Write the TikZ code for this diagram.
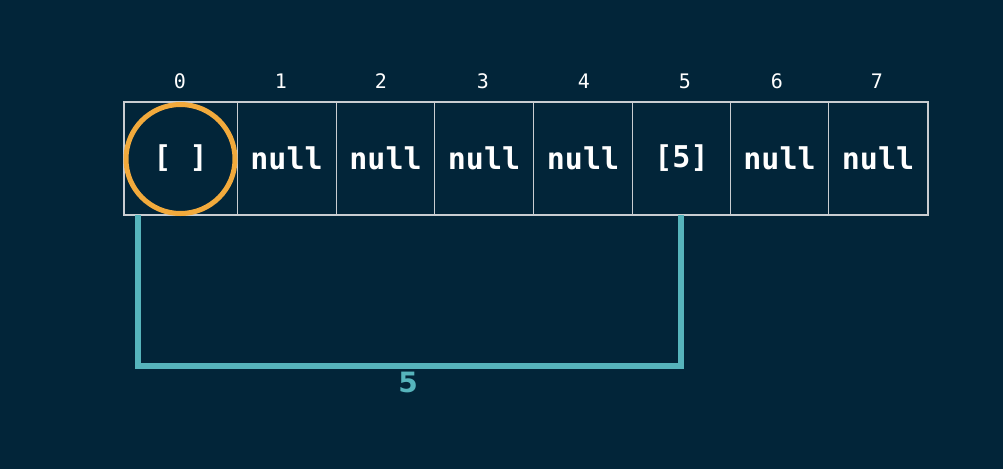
\documentclass[tikz,border=0pt]{standalone}
\usepackage{fontspec}
\setmonofont{DejaVu Sans Mono}
\newfontfamily\labelfont{DejaVu Sans}
\definecolor{bg}{HTML}{022539}
\definecolor{gridc}{HTML}{C9CDD1}
\definecolor{tealc}{HTML}{56B4BC}
\definecolor{orangec}{HTML}{F2AA3C}
\tikzset{
  cellbox/.style={draw=gridc, line width=1pt, minimum height=112pt, inner sep=0pt, text=white, font=\ttfamily\bfseries\fontsize{30}{30}\selectfont},
  idx/.style={text=white, font=\ttfamily\fontsize{20}{20}\selectfont, inner sep=0pt},
  bracket/.style={draw=tealc, line width=5.5pt, line cap=rect},
}
\begin{document}
\begin{tikzpicture}[x=1pt,y=-1pt]
\fill[bg] (0,0) rectangle (1003,469);
\useasboundingbox (0,0) rectangle (1003,469);
% cells
\node[cellbox, minimum width=113pt] (c0) at (180.5,158.3) {[ ]};
\node[cellbox, minimum width=99pt] (c1) at (286.5,158.3) {null};
\node[cellbox, minimum width=98pt] (c2) at (385.5,158.3) {null};
\node[cellbox, minimum width=99pt] (c3) at (484,158.3) {null};
\node[cellbox, minimum width=99pt] (c4) at (583,158.3) {null};
\node[cellbox, minimum width=98pt] (c5) at (681.5,158.3) {[5]};
\node[cellbox, minimum width=98pt] (c6) at (779.5,158.3) {null};
\node[cellbox, minimum width=99pt] (c7) at (878,158.3) {null};
\draw[gridc, line width=2pt] (c0.north west) rectangle (c7.south east);
% indices
\foreach \i/\x in {0/180,1/281,2/381,3/483,4/584,5/685,6/777,7/877}
  \node[idx] (i\i) at (\x,81) {\i};
% circle
\node[draw=orangec, line width=5pt, circle, minimum size=109pt, inner sep=0pt] (circ) at (180.5,159) {};
% bracket
\coordinate (bl) at (138,366);
\coordinate (br) at (681,366);
\draw[bracket] ([yshift=-3pt]c0.south west -| bl) -- (bl) -- (br) -- ([yshift=-3pt]c5.south -| br);
\node[text=tealc, font=\labelfont\bfseries\fontsize{28}{28}\selectfont, inner sep=0pt] (len) at (408,382) {5};
\end{tikzpicture}
\end{document}
